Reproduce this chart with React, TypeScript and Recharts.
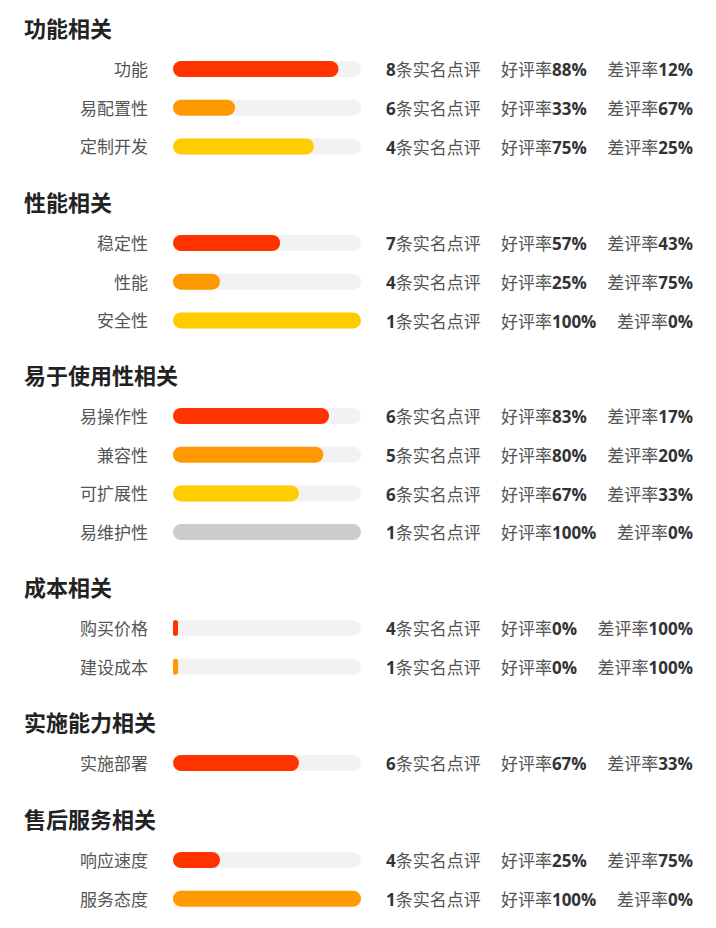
import React from "react"
import { BarChart, Bar, XAxis, YAxis, Cell } from "recharts"

const groupNames = ["功能相关", "性能相关", "易于使用性相关", "成本相关", "实施能力相关", "售后服务相关"]
const itemNames = [
  ["功能", "易配置性", "定制开发"],
  ["稳定性", "性能", "安全性"],
  ["易操作性", "兼容性", "可扩展性", "易维护性"],
  ["购买价格", "建设成本"],
  ["实施部署"],
  ["响应速度", "服务态度"],
]
const reviewCounts = [[8, 6, 4], [7, 4, 1], [6, 5, 6, 1], [4, 1], [6], [4, 1]]
const goodRates = [[88, 33, 75], [57, 25, 100], [83, 80, 67, 100], [0, 0], [67], [25, 100]]
const badRates = [[12, 67, 25], [43, 75, 0], [17, 20, 33, 0], [100, 100], [33], [75, 0]]

const barColors = ["#ff3300", "#ff9900", "#ffcc00", "#cccccc"]

const ROW = 38.7
const FONT = '"Open Sans", "Noto Sans CJK SC", sans-serif'

interface Row {
  name: string
  count: number
  good: number
  bad: number
}

const LeftTick = (props: any) => {
  const { x, y, payload } = props
  return (
    <text x={x} y={y} textAnchor="end" dominantBaseline="central" fontSize={17} fill="#555" fontFamily={FONT}>
      {payload.value}
    </text>
  )
}

const makeRightTick = (rows: Row[]) => (props: any) => {
  const { x, y, index } = props
  const r = rows[index]
  if (!r) return null
  return (
    <g fontSize={17} fontFamily={FONT}>
      <text x={x} y={y} dominantBaseline="central">
        <tspan fontWeight="bold" fill="#333">{r.count}</tspan>
        <tspan fill="#555">条实名点评</tspan>
      </text>
      <text x={x + 115} y={y} dominantBaseline="central">
        <tspan fill="#555">好评率</tspan>
        <tspan fontWeight="bold" fill="#333">{r.good}%</tspan>
      </text>
      <text x={x + 307} y={y} textAnchor="end" dominantBaseline="central">
        <tspan fill="#555">差评率</tspan>
        <tspan fontWeight="bold" fill="#333">{r.bad}%</tspan>
      </text>
    </g>
  )
}

const GroupChart = ({ gi }: { gi: number }) => {
  const rows: Row[] = itemNames[gi].map((name, i) => ({
    name,
    count: reviewCounts[gi][i],
    good: goodRates[gi][i],
    bad: badRates[gi][i],
  }))
  return (
    <div style={{ marginBottom: 21.5 }}>
      <div
        style={{
          height: 28,
          lineHeight: "28px",
          paddingLeft: 24,
          marginBottom: 8,
          fontSize: 22,
          fontWeight: "bold",
          color: "#222",
          fontFamily: FONT,
        }}
      >
        {groupNames[gi]}
      </div>
      <BarChart
        width={716}
        height={rows.length * ROW}
        data={rows}
        layout="vertical"
        margin={{ top: 0, right: 0, bottom: 0, left: 0 }}
      >
        <XAxis type="number" domain={[0, 100]} hide />
        <YAxis
          yAxisId="left"
          type="category"
          dataKey="name"
          width={173}
          axisLine={false}
          tickLine={false}
          tickSize={0}
          tickMargin={25}
          interval={0}
          tick={<LeftTick />}
        />
        <YAxis
          yAxisId="right"
          orientation="right"
          type="category"
          dataKey="name"
          width={355}
          axisLine={false}
          tickLine={false}
          tickSize={0}
          tickMargin={25}
          interval={0}
          tick={makeRightTick(rows)}
        />
        <Bar
          yAxisId="left"
          dataKey="good"
          barSize={16}
          radius={8}
          minPointSize={5}
          background={{ fill: "#f2f2f2", radius: 8 }}
          isAnimationActive={false}
        >
          {rows.map((_, i) => (
            <Cell key={i} fill={barColors[i % barColors.length]} />
          ))}
        </Bar>
      </BarChart>
    </div>
  )
}

export default function App() {
  return (
    <div
      style={{
        position: "absolute",
        left: 0,
        top: 0,
        width: 716,
        height: 928,
        background: "#fff",
        paddingTop: 14,
        boxSizing: "border-box",
      }}
    >
      {groupNames.map((_, gi) => (
        <GroupChart key={gi} gi={gi} />
      ))}
    </div>
  )
}
